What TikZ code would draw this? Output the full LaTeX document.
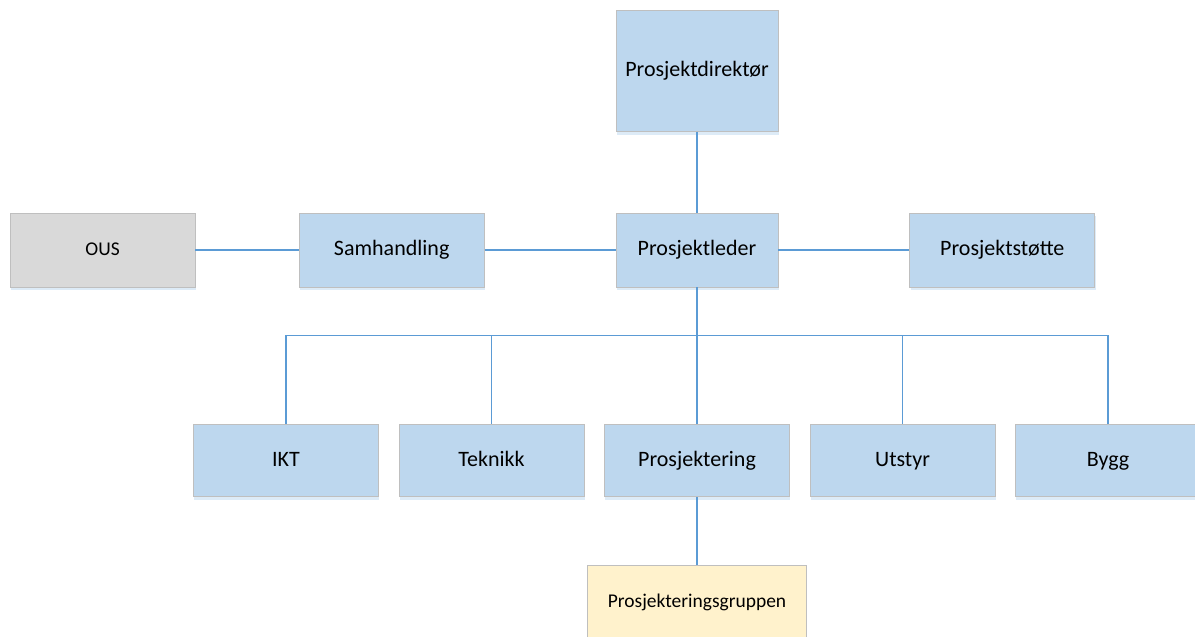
\documentclass[tikz,border=0pt]{standalone}
\usepackage{fontspec}
\setmainfont{Carlito}
\usepackage{tikz}
\usetikzlibrary{positioning,shadows}
\definecolor{orgfill}{HTML}{BDD7EE}
\definecolor{orggray}{HTML}{D9D9D9}
\definecolor{orgyellow}{HTML}{FFF2CC}
\definecolor{orgedge}{HTML}{BFBFBF}
\definecolor{orgline}{HTML}{5B9BD5}
\definecolor{orgshadow}{HTML}{DDEBF7}
\begin{document}
\begin{tikzpicture}[x=0.75pt,y=-0.75pt,
  font=\fontsize{16.5}{20}\selectfont,
  node distance=98.25pt,
  orgbox/.style={draw=orgedge,line width=0.6pt,fill=orgfill,
    minimum width=138.75pt,minimum height=54pt,inner sep=2pt,
    text height=0.95em,text depth=0.1em,
    general shadow={fill=orgshadow,shadow xshift=0.6pt,shadow yshift=-2.6pt}},
  topbox/.style={orgbox,minimum width=121.5pt,minimum height=55.5pt},
  extbox/.style={orgbox,fill=orggray,minimum height=55.5pt,font=\fontsize{14.6}{18}\selectfont},
  groupbox/.style={orgbox,fill=orgyellow,minimum width=164.25pt,font=\fontsize{14.6}{18}\selectfont},
  link/.style={draw=orgline,line width=1.3pt}]
\useasboundingbox (0,0) rectangle (1195,636);
% top of the chart
\node[topbox] (leder) at (697,250) {Prosjektleder};
\node[topbox,minimum height=90.75pt,above=60.75pt of leder] (direktor) {Prosjektdirektør};
\node[orgbox,minimum height=55.5pt,left=of leder] (samhandling) {Samhandling};
\node[extbox,left=77.5pt of samhandling] (ous) {OUS};
\node[orgbox,minimum height=55.5pt,right=of leder] (stotte) {Prosjektstøtte};
% departments
\node[orgbox,below=102.75pt of leder] (prosjektering) {Prosjektering};
\node[orgbox,left=14.8pt of prosjektering] (teknikk) {Teknikk};
\node[orgbox,left=14.8pt of teknikk] (ikt) {IKT};
\node[orgbox,right=14.8pt of prosjektering] (utstyr) {Utstyr};
\node[orgbox,right=14.8pt of utstyr] (bygg) {Bygg};
\node[groupbox,below=51pt of prosjektering] (gruppen) {Prosjekteringsgruppen};
\coordinate[below=36pt of leder.south] (bus);
% connectors
\draw[link] (direktor) -- (leder);
\draw[link] (ous) -- (samhandling);
\draw[link] (samhandling) -- (leder);
\draw[link] (leder) -- (stotte);
\draw[link] (leder) -- (bus) -- (prosjektering);
\foreach \dept in {ikt,teknikk,utstyr,bygg}
  \draw[link] (bus) -| (\dept.north);
\draw[link] (prosjektering) -- (gruppen);
\end{tikzpicture}
\end{document}
